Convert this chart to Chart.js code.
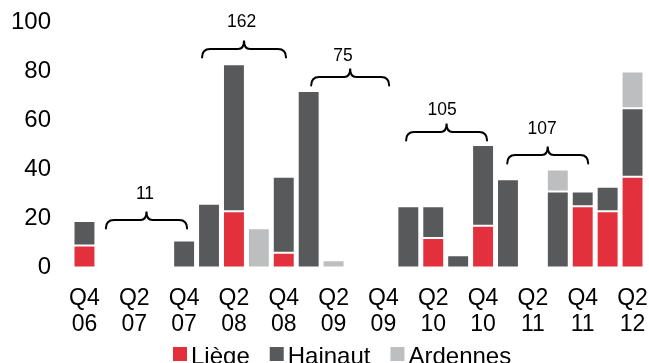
<!DOCTYPE html>
<html>
<head>
<meta charset="utf-8">
<script src="https://cdn.jsdelivr.net/npm/chart.js@4/dist/chart.umd.min.js"></script>
<style>
  html, body { margin: 0; padding: 0; background: #fff; }
  #wrap { width: 649px; height: 363px; position: relative; }
</style>
</head>
<body>
<div id="wrap"><canvas id="c" width="649" height="363"></canvas></div>
<script>
// Quarterly counts per province
const quarters = ['Q4 06','Q1 07','Q2 07','Q3 07','Q4 07','Q1 08','Q2 08','Q3 08','Q4 08',
                  'Q1 09','Q2 09','Q3 09','Q4 09','Q1 10','Q2 10','Q3 10','Q4 10',
                  'Q1 11','Q2 11','Q3 11','Q4 11','Q1 12','Q2 12'];
const liege    = [9,null,null,null,null,null,23,null,6,null,null,null,null,null,12,null,17,null,null,null,25,23,37];
const hainaut  = [10,null,null,null,11,26,60,null,31,72,null,null,null,25,13,5,33,36,null,31,6,10,28];
const ardennes = [null,null,null,null,null,null,null,16,null,null,3,null,null,null,null,null,null,null,null,9,null,null,15];
const yTicks   = [0, 20, 40, 60, 80, 100];

// Yearly totals shown above the braces
const braceTotals = ['11', '162', '75', '105', '107'];

// Brace geometry (category index span, level in value units, label anchor)
const braceLayout = [
  { from: 0.86,  to: 4.12,  level: 19.4, lx: 2.43,  ly: 30.0 },
  { from: 4.72,  to: 8.09,  level: 89.2, lx: 6.31,  ly: 100.2 },
  { from: 9.10,  to: 12.23, level: 77.8, lx: 10.38, ly: 86.3 },
  { from: 12.91, to: 16.16, level: 55.3, lx: 14.36, ly: 64.3 },
  { from: 16.97, to: 20.22, level: 45.9, lx: 18.37, ly: 56.4 }
];

const COLORS = { liege: '#E2303D', hainaut: '#58595B', ardennes: '#BDBEC0' };
const FONT = 'Liberation Sans, Arial, Helvetica, sans-serif';

const bracePlugin = {
  id: 'braces',
  afterDatasetsDraw(chart) {
    const { ctx, scales: { x, y } } = chart;
    ctx.save();
    ctx.strokeStyle = '#000';
    ctx.lineWidth = 2;
    ctx.lineCap = 'round';
    braceLayout.forEach((b, i) => {
      const x0 = x.getPixelForValue(b.from);
      const x1 = x.getPixelForValue(b.to);
      const xc = (x0 + x1) / 2;
      const yl = y.getPixelForValue(b.level);
      const h = 8.5, r = 8, rc = 6;
      ctx.beginPath();
      ctx.moveTo(x0, yl + h);
      ctx.quadraticCurveTo(x0, yl, x0 + r, yl);
      ctx.lineTo(xc - rc, yl);
      ctx.quadraticCurveTo(xc, yl, xc, yl - h);
      ctx.quadraticCurveTo(xc, yl, xc + rc, yl);
      ctx.lineTo(x1 - r, yl);
      ctx.quadraticCurveTo(x1, yl, x1, yl + h);
      ctx.stroke();
      ctx.fillStyle = '#000';
      ctx.font = '17.5px ' + FONT;
      ctx.textAlign = 'center';
      ctx.textBaseline = 'middle';
      ctx.fillText(braceTotals[i], x.getPixelForValue(b.lx), y.getPixelForValue(b.ly));
    });
    ctx.restore();
  }
};

const legendPlugin = {
  id: 'bottomLegend',
  afterDraw(chart) {
    const { ctx } = chart;
    ctx.save();
    ctx.font = '24px ' + FONT;
    ctx.textBaseline = 'alphabetic';
    ctx.textAlign = 'left';
    let px = 173;
    const boxTop = 347, box = 14;
    chart.data.datasets.forEach(ds => {
      ctx.fillStyle = ds.backgroundColor;
      ctx.fillRect(px, boxTop, box, box);
      ctx.fillStyle = '#000';
      ctx.fillText(ds.label, px + box + 4, 364);
      px += box + 4 + ctx.measureText(ds.label).width + 20;
    });
    ctx.restore();
  }
};

const barStyle = { borderWidth: 1, borderColor: 'rgba(255,255,255,0.35)', borderSkipped: false,
                   barPercentage: 0.88, categoryPercentage: 1.0 };

new Chart(document.getElementById('c'), {
  type: 'bar',
  data: {
    labels: quarters,
    datasets: [
      { label: 'Liège',    data: liege,    backgroundColor: COLORS.liege,    ...barStyle },
      { label: 'Hainaut',  data: hainaut,  backgroundColor: COLORS.hainaut,  ...barStyle },
      { label: 'Ardennes', data: ardennes, backgroundColor: COLORS.ardennes, ...barStyle }
    ]
  },
  options: {
    responsive: false,
    animation: false,
    layout: { padding: { top: 22.5, right: 4, left: 0, bottom: 0 } },
    plugins: { legend: { display: false }, tooltip: { enabled: false } },
    scales: {
      x: {
        stacked: true,
        grid: { display: false, drawTicks: false },
        border: { display: false },
        ticks: {
          autoSkip: false,
          maxRotation: 0,
          padding: 18.5,
          color: '#000',
          font: { family: FONT, size: 23, lineHeight: 26 / 23 },
          callback: (v, i) => (i % 2 === 0 ? quarters[i].split(' ') : '')
        },
        afterFit: s => { s.height = 95.5; s.paddingLeft = 0; s.paddingRight = 0; }
      },
      y: {
        stacked: true,
        min: 0,
        max: 100,
        grid: { display: false, drawTicks: false },
        border: { display: false },
        afterBuildTicks: s => { s.ticks = yTicks.map(v => ({ value: v })); },
        ticks: {
          padding: 21,
          color: '#000',
          font: { family: FONT, size: 24 }
        },
        afterFit: s => { s.width = 72; s.paddingTop = 0; s.paddingBottom = 0; }
      }
    }
  },
  plugins: [bracePlugin, legendPlugin]
});
</script>
</body>
</html>
